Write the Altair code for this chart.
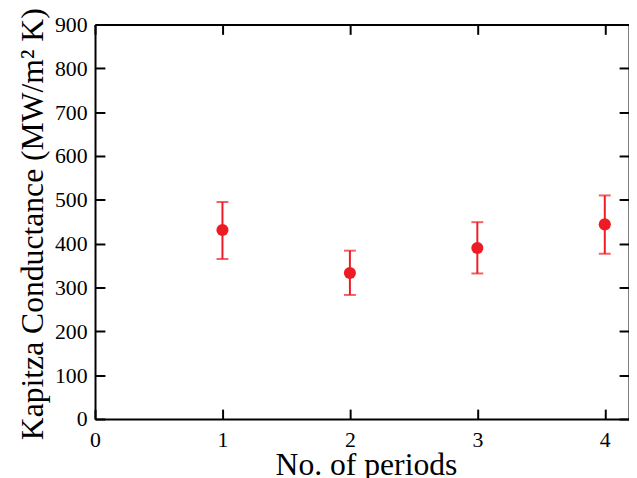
import altair as alt
import pandas as pd

periods = [1, 2, 3, 4]
conductance = [431, 333, 390, 444]
err_low = [365, 283, 332, 377]
err_high = [495, 384, 449, 510]

df = pd.DataFrame({"x": periods, "y": conductance, "lo": err_low, "hi": err_high})

W, H = 540, 399
RED = "#ed1c24"
FONT = "Liberation Serif, Times New Roman, serif"

xs = alt.Scale(domain=[0, 4.19], nice=False, zero=False)
ys = alt.Scale(domain=[0, 900], nice=False)
xticks = [0, 1, 2, 3, 4]
yticks = list(range(0, 901, 100))

base = alt.Chart(df)

main_x = alt.Axis(values=xticks, ticks=False, grid=False, labelFont=FONT, labelFontSize=22,
                  labelPadding=11, labelColor="black", domainColor="black", domainWidth=2,
                  title="No. of periods", titleFont=FONT, titleFontSize=32, titleFontWeight="normal",
                  titleColor="black", titleBaseline="alphabetic", titleY=56, titleX=274,
                  labelFlush=False)
main_y = alt.Axis(values=yticks, ticks=False, grid=False, labelFont=FONT, labelFontSize=22,
                  labelPadding=8, labelColor="black", domainColor="black", domainWidth=2,
                  title="Kapitza Conductance (MW/m² K)", titleFont=FONT, titleFontSize=32,
                  titleFontWeight="normal", titleColor="black", titleBaseline="alphabetic",
                  titleX=-53, titleY=H / 2 + 2, labelFlush=False)

rules = base.mark_rule(color=RED, strokeWidth=2).encode(
    x=alt.X("x:Q", scale=xs, axis=main_x),
    y=alt.Y("lo:Q", scale=ys, axis=main_y),
    y2="hi:Q",
)
caps_lo = base.mark_tick(color=RED, orient="horizontal", size=12, thickness=2).encode(
    x=alt.X("x:Q", scale=xs, axis=None), y=alt.Y("lo:Q", scale=ys, axis=None))
caps_hi = base.mark_tick(color=RED, orient="horizontal", size=12, thickness=2).encode(
    x=alt.X("x:Q", scale=xs, axis=None), y=alt.Y("hi:Q", scale=ys, axis=None))
points = base.mark_circle(color=RED, size=150, opacity=1).encode(
    x=alt.X("x:Q", scale=xs, axis=None), y=alt.Y("y:Q", scale=ys, axis=None))

tick_common = dict(labels=False, grid=False, ticks=True, tickSize=10, tickWidth=2,
                   tickColor="black", title=None)

# inward ticks on bottom (top-oriented axis moved down) and left (right-oriented axis moved left)
ghost1 = base.mark_point(opacity=0).encode(
    x=alt.X("x:Q", scale=xs, axis=alt.Axis(orient="top", offset=-H, values=xticks, domain=False, **tick_common)),
    y=alt.Y("y:Q", scale=ys, axis=alt.Axis(orient="right", offset=-W, values=yticks, domain=False, **tick_common)),
)
# inward ticks + border on top and right
ghost2 = base.mark_point(opacity=0).encode(
    x=alt.X("x:Q", scale=xs, axis=alt.Axis(orient="bottom", offset=-H, values=xticks, domain=True,
                                           domainColor="black", domainWidth=2, **tick_common)),
    y=alt.Y("y:Q", scale=ys, axis=alt.Axis(orient="left", offset=-W, values=yticks, domain=True,
                                           domainColor="black", domainWidth=2, **tick_common)),
)

chart = alt.layer(ghost1, ghost2, rules, caps_lo, caps_hi, points).resolve_axis(
    x="independent", y="independent"
).properties(
    width=W, height=H,
    autosize=alt.AutoSizeParams(type="none"),
    padding={"left": 88, "top": 14, "right": 0, "bottom": 57},
    background="white",
).configure_view(stroke=None).configure_axis(
    labelFont=FONT, titleFont=FONT
).configure(font=FONT)

chart.save("out.html", embed_options={"renderer": "svg", "actions": False})
